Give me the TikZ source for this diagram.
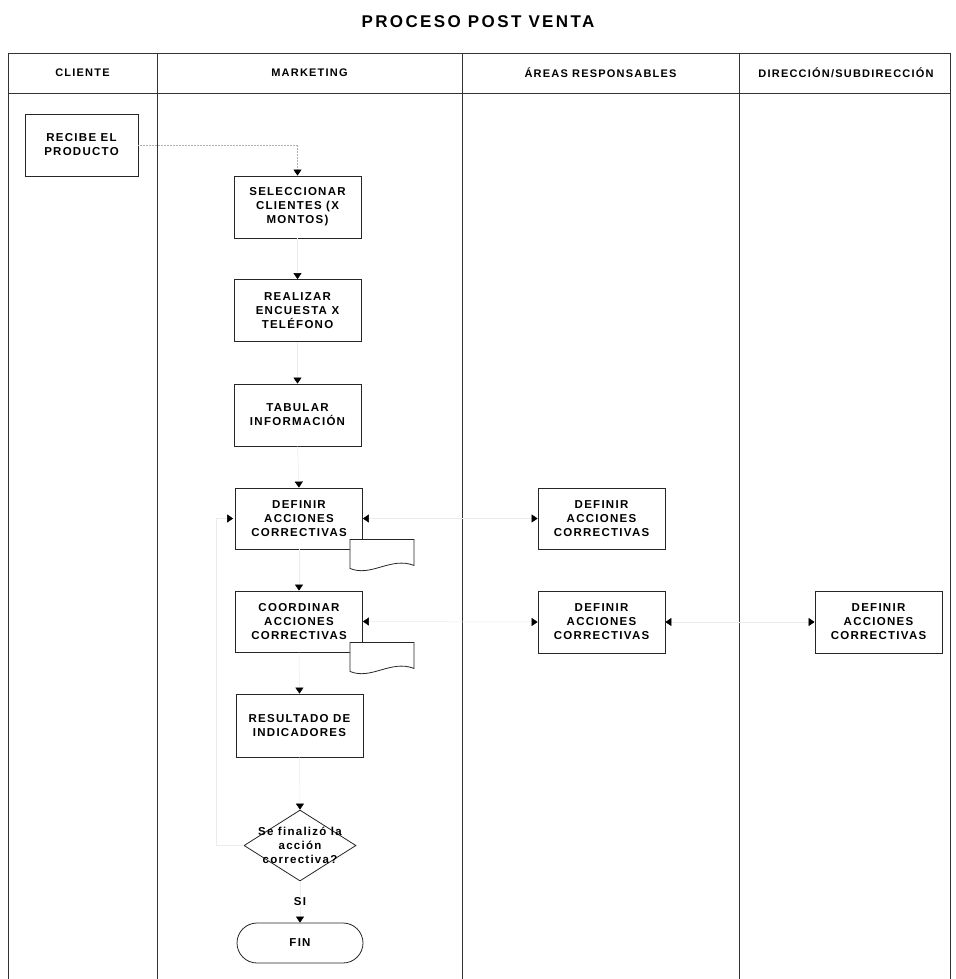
\documentclass[tikz,border=0pt]{standalone}
\usepackage{fontspec}
\usetikzlibrary{arrows.meta,shapes.geometric}
\newfontfamily\lblfont{Liberation Sans}[LetterSpace=11]
\newfontfamily\ttlfont{Liberation Sans}[LetterSpace=14]
\begin{document}
\begin{tikzpicture}[x=1pt,y=-1pt,
  lbl/.style={font=\lblfont\bfseries\fontsize{11.5}{14}\selectfont, align=center, inner sep=0pt},
  proc/.style={lbl, draw=black!85, line width=0.8pt, fill=white, minimum width=127pt, minimum height=62pt},
  conn/.style={draw=black!8, line width=0.5pt, -{Triangle[width=8pt,length=6pt,color=black]}},
  bconn/.style={draw=black!8, line width=0.5pt, {Triangle[width=8pt,length=6pt,color=black]}-{Triangle[width=8pt,length=6pt,color=black]}},
  docst/.style={draw=black!85, line width=0.8pt, fill=white},
  hdr/.style={lbl, font=\lblfont\bfseries\fontsize{11}{13}\selectfont},
  grid/.style={draw=black!80, line width=0.9pt}]
\fill[white] (0,0) rectangle (955,979);
\useasboundingbox (0,0) rectangle (955,979);
% title
\node[font=\ttlfont\bfseries\fontsize{17}{20}\selectfont, inner sep=0pt] (title) at (478,22) {PROCESO POST VENTA};
% table
\draw[grid] (8,53) rectangle (950,979);
\draw[grid] (8,93) -- (950,93);
\draw[grid] (157,53) -- (157,979);
\draw[grid] (462,53) -- (462,979);
\draw[grid] (739,53) -- (739,979);
\node[hdr] (h1) at (82.5,73) {CLIENTE};
\node[hdr] (h2) at (309.5,73) {MARKETING};
\node[hdr] (h3) at (600.5,73) {ÁREAS RESPONSABLES};
\node[hdr] (h4) at (846,73) {DIRECCIÓN/SUBDIRECCIÓN};
% nodes
\node[proc, minimum width=113pt] (rec) at (81.5,145) {RECIBE EL\\PRODUCTO};
\node[proc] (sel) at (297.5,207) {SELECCIONAR\\CLIENTES (X\\MONTOS)};
\node[proc] (rea) at (297.5,310.5) {REALIZAR\\ENCUESTA X\\TELÉFONO};
\node[proc] (tab) at (297.5,415) {TABULAR\\INFORMACIÓN};
\node[proc, minimum height=61pt] (defM) at (299,518.5) {DEFINIR\\ACCIONES\\CORRECTIVAS};
\node[proc, minimum height=61pt] (coo) at (299,621.5) {COORDINAR\\ACCIONES\\CORRECTIVAS};
\node[proc, minimum height=63pt] (res) at (299.5,725.5) {RESULTADO DE\\INDICADORES};
\node[diamond, draw=black!85, line width=0.8pt, fill=white, minimum width=112pt, minimum height=71pt, inner sep=0pt] (dia) at (300,845.5) {};
\node[lbl] (diat) at (dia.center) {Se finalizó la\\acción\\correctiva?};
\node[lbl, draw=black!85, line width=0.8pt, fill=white, minimum width=126pt, minimum height=40pt, rounded corners=20pt] (fin) at (300,943) {FIN};
\node[proc, minimum height=61pt] (ar1) at (601.5,518.5) {DEFINIR\\ACCIONES\\CORRECTIVAS};
\node[proc] (ar2) at (601.5,622) {DEFINIR\\ACCIONES\\CORRECTIVAS};
\node[proc] (dir) at (878.5,622) {DEFINIR\\ACCIONES\\CORRECTIVAS};
% documents
\begin{scope}[shift={(defM.south east)}]
\draw[docst] (-13,-10) -- (51,-10) -- (51,16) .. controls (28,7) and (8,28) .. (-13,19) -- cycle;
\end{scope}
\begin{scope}[shift={(coo.south east)}]
\draw[docst] (-13,-10) -- (51,-10) -- (51,16) .. controls (28,7) and (8,28) .. (-13,19) -- cycle;
\end{scope}
% connectors
\draw[conn, densely dotted, draw=black!30] (rec.east) -| (sel.north);
\draw[conn] (sel.south) -- (rea.north);
\draw[conn] (rea.south) -- (tab.north);
\draw[conn] (tab.south) -- (defM.north);
\draw[conn] (defM.south) -- (coo.north);
\draw[conn] (coo.south) -- (res.north);
\draw[conn] (res.south) -- (dia.north);
\draw[conn] (dia.south) -- node[lbl, fill=white, inner sep=1pt] (si) {SI} (fin.north);
\draw[conn] (dia.west) -- ++(-27,0) |- ([xshift=-2pt]defM.west);
\draw[bconn] (defM.east) -- (ar1.west);
\draw[bconn] (coo.east) -- (ar2.west);
\draw[bconn] (ar2.east) -- (dir.west);
\end{tikzpicture}
\end{document}
